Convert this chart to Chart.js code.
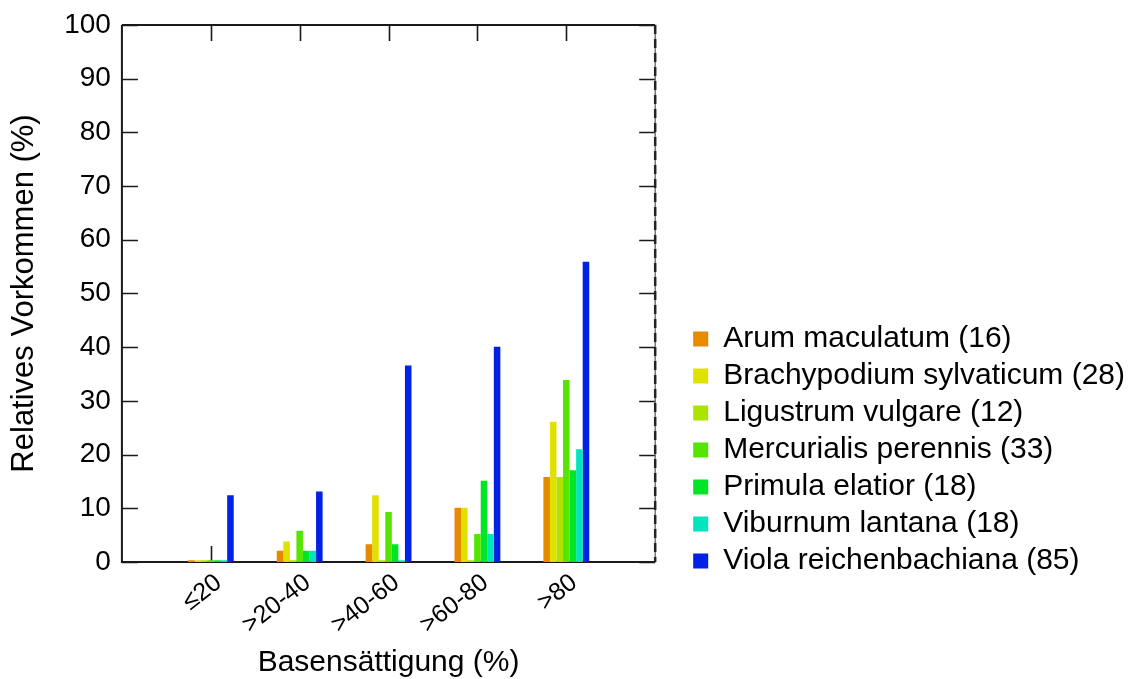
<!DOCTYPE html>
<html lang="de">
<head>
<meta charset="utf-8">
<title>Relatives Vorkommen nach Basensättigung</title>
<script src="https://cdn.jsdelivr.net/npm/chart.js@4.4.1/dist/chart.umd.min.js"></script>
<style>
  html, body { margin: 0; padding: 0; background: #fff; }
  #wrap { width: 1140px; height: 679px; position: relative; }
</style>
</head>
<body>
<div id="wrap"><canvas id="chart"></canvas></div>
<script>
// Klassen der Basensättigung (x-Achse)
const categories = ["≤20", ">20-40", ">40-60", ">60-80", ">80"]

// Relatives Vorkommen (%) je Art
const arum        = [0.3, 2.1, 3.3, 10.1, 15.8]
const brachypodium = [0.3, 3.8, 12.4, 10.1, 26.1]
const ligustrum   = [0.3, 0.3, 0.3, 0.3, 15.8]
const mercurialis = [0.3, 5.8, 9.3, 5.2, 33.9]
const primula     = [0.3, 2.1, 3.3, 15.1, 17.1]
const viburnum    = [0.3, 2.1, 0.3, 5.2, 21.0]
const viola       = [12.4, 13.1, 36.6, 40.1, 55.9]

const seriesNames = [
  "Arum maculatum (16)",
  "Brachypodium sylvaticum (28)",
  "Ligustrum vulgare (12)",
  "Mercurialis perennis (33)",
  "Primula elatior (18)",
  "Viburnum lantana (18)",
  "Viola reichenbachiana (85)",
]
const seriesValues = [arum, brachypodium, ligustrum, mercurialis, primula, viburnum, viola]
const seriesColors = ["#E68A00", "#E1E100", "#ADE300", "#55E500", "#00E626", "#00E5BE", "#0022E5"]

const yTicks = [0, 10, 20, 30, 40, 50, 60, 70, 80, 90, 100]

const fontFamily = "'Liberation Sans', Arial, Helvetica, sans-serif"
Chart.defaults.font.family = fontFamily
Chart.defaults.color = "#000"

// empty slot on both sides, like the original axis
const labels = ["", ...categories, ""]
const pad = (arr) => [null, ...arr, null]

// box around the plot with inward tick marks
const frame = {
  id: "frame",
  beforeDatasetsDraw(chart) {
    const { ctx, chartArea: a, scales } = chart
    const x = scales.x
    const y = scales.y
    const tl = 16
    ctx.save()
    ctx.strokeStyle = "#1a1a1a"
    ctx.lineWidth = 2
    ctx.beginPath()
    ctx.moveTo(a.left, a.top)
    ctx.lineTo(a.left, a.bottom)
    ctx.lineTo(a.right, a.bottom)
    ctx.moveTo(a.left, a.top)
    ctx.lineTo(a.right, a.top)
    ctx.stroke()

    ctx.lineWidth = 1.6
    ctx.beginPath()
    yTicks.forEach((v) => {
      const py = Math.round(y.getPixelForValue(v)) + 0.5
      ctx.moveTo(a.left, py)
      ctx.lineTo(a.left + tl, py)
      ctx.moveTo(a.right, py)
      ctx.lineTo(a.right - tl, py)
    })
    categories.forEach((c, i) => {
      const px = Math.round(x.getPixelForValue(i + 1)) + 0.5
      ctx.moveTo(px, a.top)
      ctx.lineTo(px, a.top + tl)
      ctx.moveTo(px, a.bottom)
      ctx.lineTo(px, a.bottom - tl)
    })
    ctx.stroke()

    // right edge: thin line with a dashed overlay
    ctx.lineWidth = 1.2
    ctx.strokeStyle = "#555"
    ctx.beginPath()
    ctx.moveTo(a.right, a.top)
    ctx.lineTo(a.right, a.bottom)
    ctx.stroke()
    ctx.lineWidth = 2.5
    ctx.strokeStyle = "#222"
    ctx.setLineDash([9, 5])
    ctx.beginPath()
    ctx.moveTo(a.right, a.top)
    ctx.lineTo(a.right, a.bottom)
    ctx.stroke()
    ctx.restore()
  },
}

new Chart(document.getElementById("chart"), {
  type: "bar",
  data: {
    labels: labels,
    datasets: seriesNames.map((name, i) => ({
      label: name,
      data: pad(seriesValues[i]),
      backgroundColor: seriesColors[i],
      borderWidth: 0,
      categoryPercentage: 0.516,
      barPercentage: 1.0,
    })),
  },
  options: {
    responsive: true,
    maintainAspectRatio: false,
    animation: false,
    layout: {
      padding: { top: 23, left: 6, right: 5, bottom: 0 },
    },
    plugins: {
      tooltip: { enabled: false },
      legend: {
        position: "right",
        align: "start",
        maxWidth: 520,
        title: {
          display: true,
          text: "",
          font: { size: 10, lineHeight: 1 },
          padding: { top: 284, bottom: 0 },
        },
        labels: {
          font: { size: 30 },
          boxWidth: 15,
          boxHeight: 15,
          padding: 7,
          color: "#000",
        },
      },
    },
    scales: {
      x: {
        type: "category",
        offset: false,
        grid: { display: false, drawTicks: false },
        border: { display: false },
        ticks: {
          font: { size: 25, lineHeight: 1.0 },
          minRotation: 38,
          maxRotation: 38,
          padding: 8,
          labelOffset: 8,
          autoSkip: false,
          color: "#000",
        },
        title: {
          display: true,
          text: "Basensättigung (%)",
          font: { size: 30, lineHeight: 1.1 },
          padding: { top: 0, bottom: 0 },
          color: "#000",
        },
      },
      y: {
        min: 0,
        max: 100,
        grid: { display: false, drawTicks: false },
        border: { display: false },
        ticks: {
          stepSize: 10,
          font: { size: 28, lineHeight: 1.0 },
          padding: 11,
          color: "#000",
        },
        title: {
          display: true,
          text: "Relatives Vorkommen (%)",
          font: { size: 31, lineHeight: 1.2 },
          padding: { top: 0, bottom: 10 },
          color: "#000",
        },
      },
      y2: {
        position: "right",
        display: true,
        grid: {
          drawOnChartArea: false,
          drawTicks: true,
          tickLength: 31,
          tickColor: "rgba(0,0,0,0)",
        },
        border: { display: false },
        ticks: { display: false },
      },
    },
  },
  plugins: [frame],
})
</script>
</body>
</html>
